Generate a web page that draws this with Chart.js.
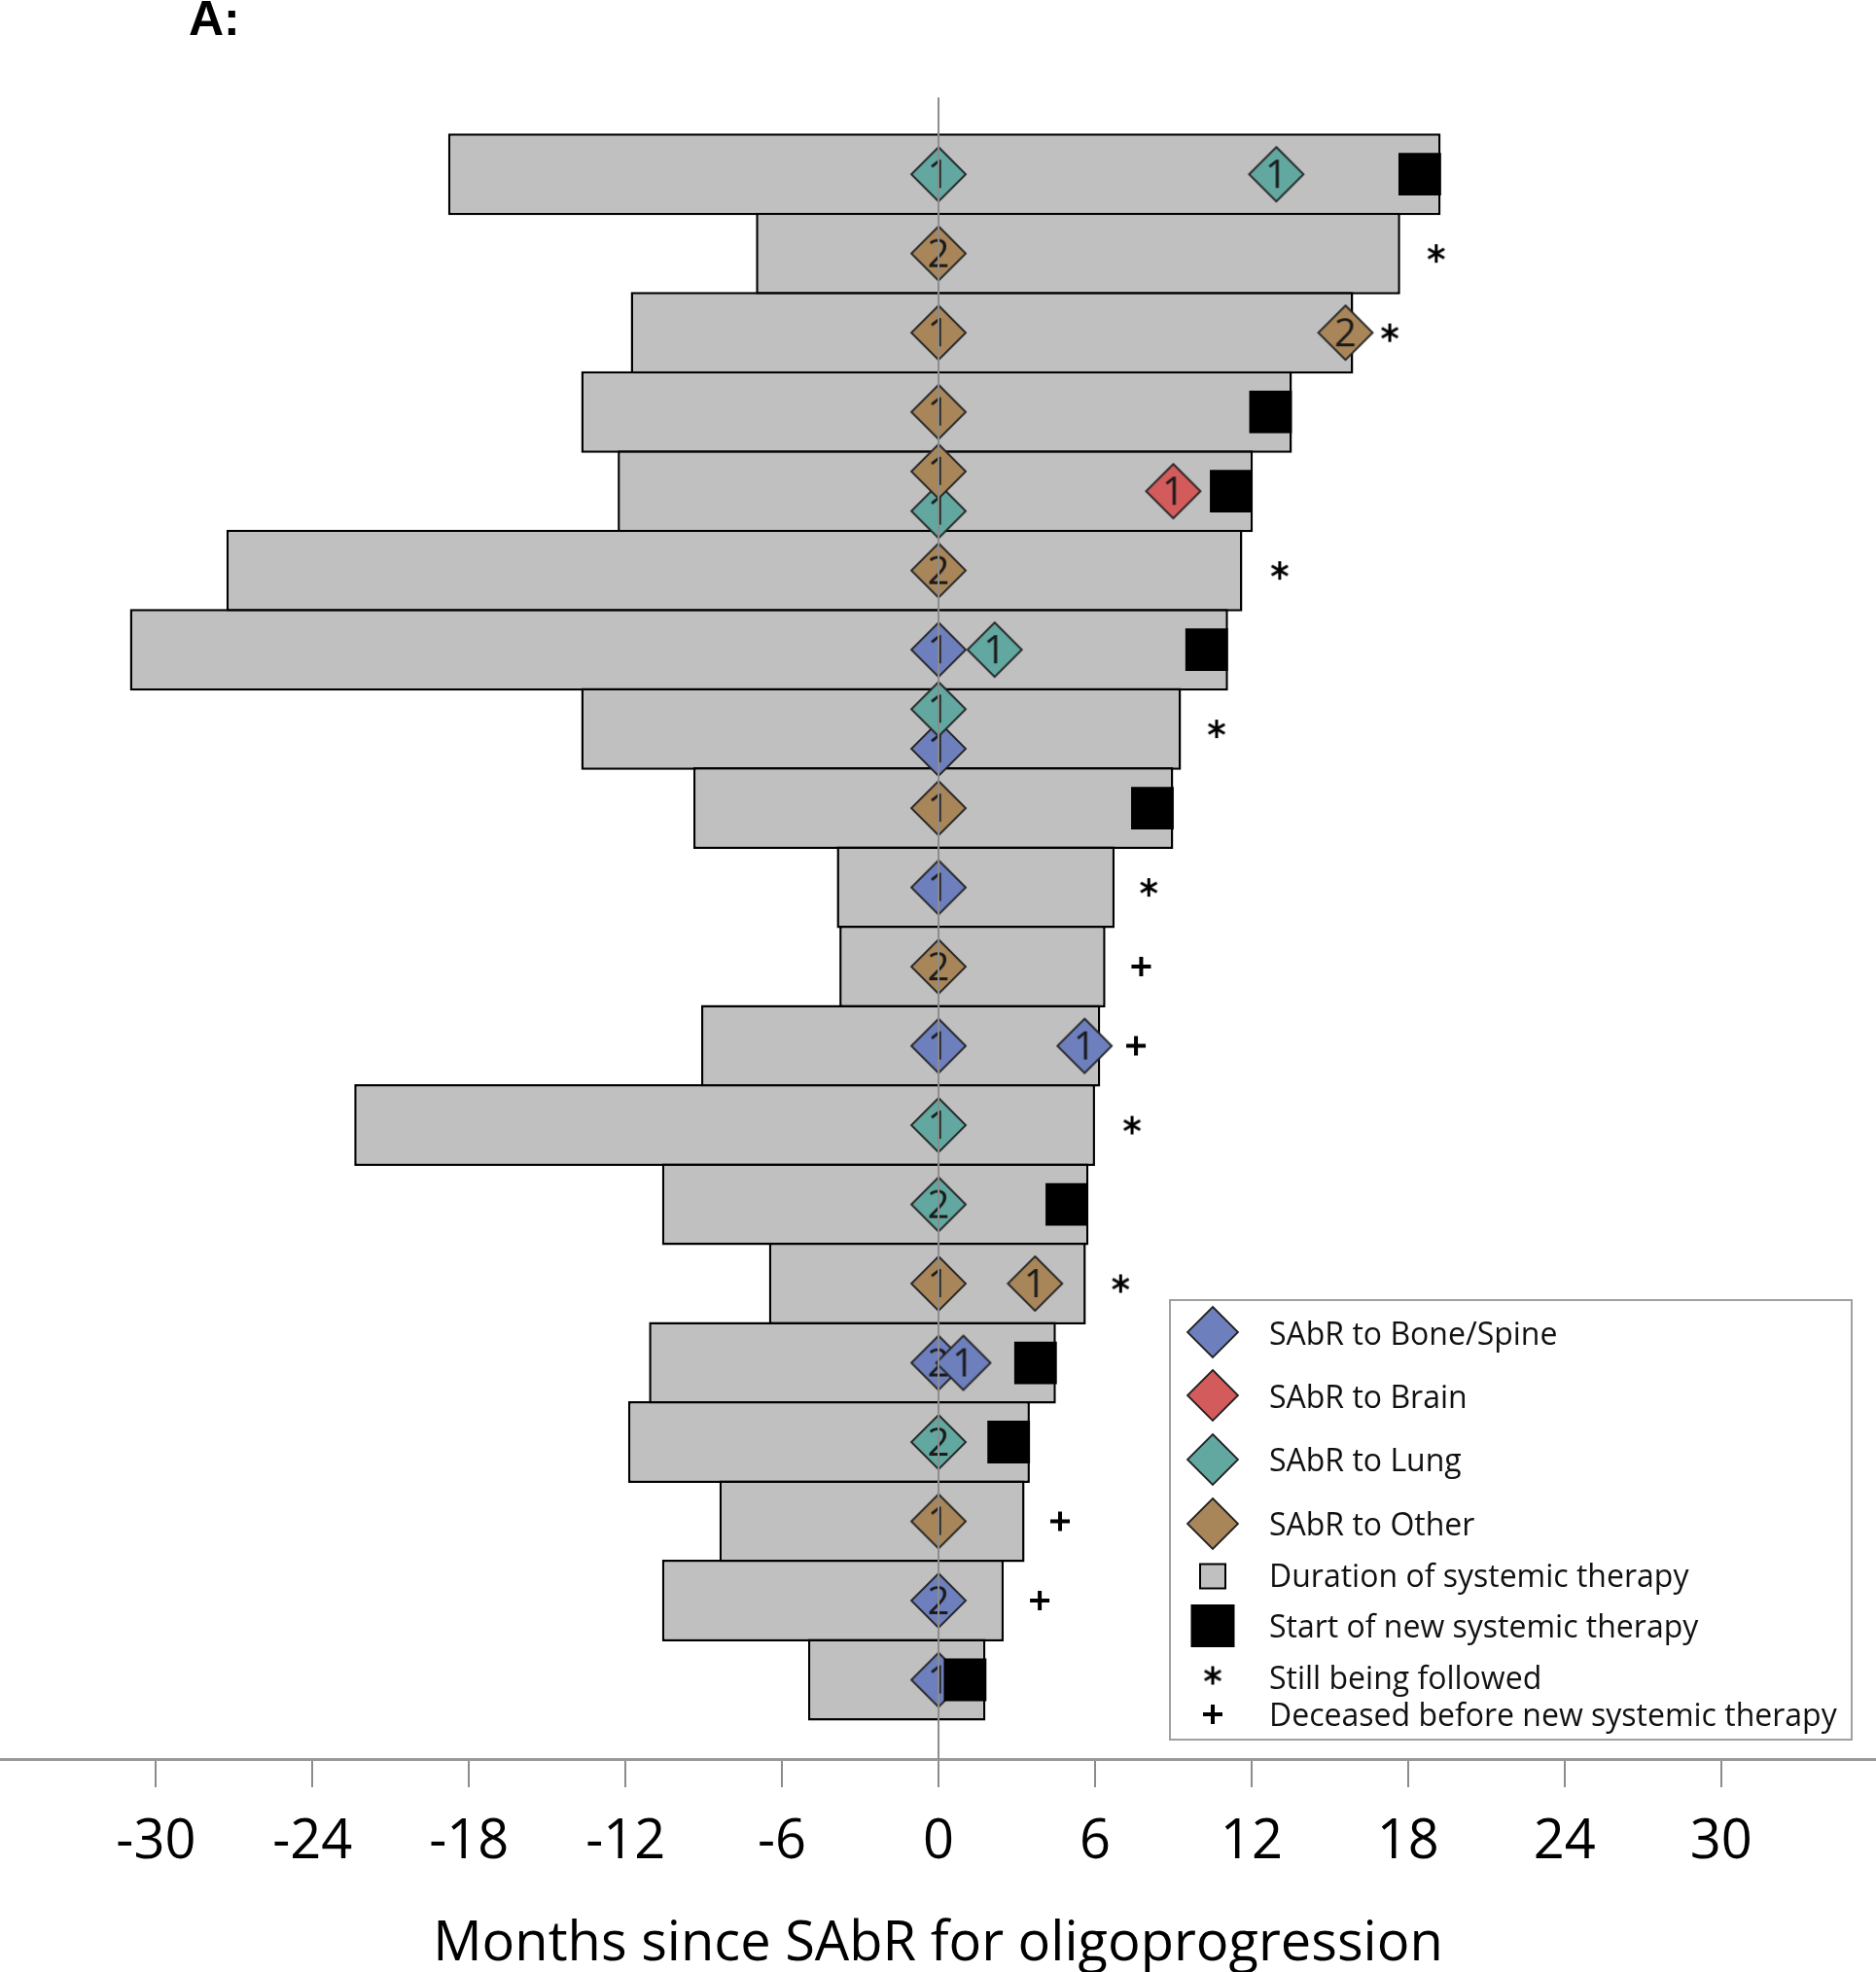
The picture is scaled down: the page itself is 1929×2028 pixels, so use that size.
<!DOCTYPE html>
<html>
<head>
<meta charset="utf-8">
<script src="https://cdn.jsdelivr.net/npm/chart.js@4.4.1/dist/chart.umd.min.js"></script>
<style>
html,body{margin:0;padding:0;background:#fff;}
#wrap{width:1929px;height:2028px;position:relative;}
</style>
</head>
<body>
<div id="wrap"><canvas id="c" width="1929" height="2028"></canvas></div>
<script>
// ---------------- data (months since SAbR) ----------------
const patientRows = [1,2,3,4,5,6,7,8,9,10,11,12,13,14,15,16,17,18,19,20];
const therapyStart = [-18.8,-7.0,-11.8,-13.7,-12.3,-27.3,-31.0,-13.7,-9.4,-3.9,-3.8,-9.1,-22.4,-10.6,-6.5,-11.1,-11.9,-8.4,-10.6,-5.0];
const therapyEnd   = [19.25,17.7,15.9,13.55,12.05,11.65,11.1,9.3,9.0,6.75,6.4,6.2,6.0,5.75,5.65,4.5,3.5,3.3,2.5,1.8];

// [row, month, SAbR course number]
const boneSpineSabr = [[7,0,1],[8.25,0,1],[10,0,1],[12,0,1],[12,5.6,1],[16,0,2],[16,0.95,1],[19,0,2],[20,0,1]];
const brainSabr     = [[5,9.0,1]];
const lungSabr      = [[1,0,1],[1,12.95,1],[5.25,0,1],[7,2.15,1],[7.75,0,1],[13,0,1],[14,0,2],[17,0,2]];
const otherSabr     = [[2,0,2],[3,0,1],[3,15.6,2],[4,0,1],[4.75,0,1],[6,0,2],[9,0,1],[11,0,2],[15,0,1],[15,3.7,1],[18,0,1]];

// [row, month]
const newTherapyStart = [[1,18.45],[4,12.73],[5,11.22],[7,10.28],[9,8.2],[14,4.92],[16,3.72],[17,2.69],[20,1.02]];
const stillFollowed   = [[2,19.08],[3,17.3],[6,13.08],[8,10.66],[10,8.06],[13,7.42],[15,6.98]];
const deceasedBefore  = [[11,7.77],[12,7.57],[18,4.66],[19,3.88]];

const xTickValues = [-30,-24,-18,-12,-6,0,6,12,18,24,30];
const siteLabels  = ['SAbR to Bone/Spine','SAbR to Brain','SAbR to Lung','SAbR to Other'];
const otherLabels = ['Duration of systemic therapy','Start of new systemic therapy','Still being followed','Deceased before new systemic therapy'];
const axisTitle = 'Months since SAbR for oligoprogression';
const panelLabel = 'A:';

// ---------------- styles ----------------
const COLORS = {bone:'#6e7fbd', brain:'#d45b5b', lung:'#62a8a0', other:'#a8865a'};
const FONT = '"Open Sans", "DejaVu Sans", sans-serif';

function makeDiamond(color, label, r) {
  const s = Math.ceil(2*r + 4);
  const cv = document.createElement('canvas');
  cv.width = s; cv.height = s;
  const g = cv.getContext('2d');
  const c = s/2;
  g.beginPath();
  g.moveTo(c, c-r); g.lineTo(c+r, c); g.lineTo(c, c+r); g.lineTo(c-r, c); g.closePath();
  g.fillStyle = color; g.fill();
  g.lineWidth = 1.8; g.strokeStyle = '#222'; g.stroke();
  if (label) {
    g.fillStyle = '#1a1a1a';
    g.font = '40px ' + FONT;
    g.textAlign = 'center';
    g.textBaseline = 'alphabetic';
    g.fillText(String(label), c, c + 0.357*40);
  }
  return cv;
}
function makeAsterisk(size, lw) {
  const s = size + 6;
  const cv = document.createElement('canvas');
  cv.width = s; cv.height = s;
  const g = cv.getContext('2d');
  const c = s/2, a = size/2;
  g.strokeStyle = '#000'; g.lineWidth = lw; g.lineCap = 'butt';
  for (const ang of [90, 30, 150]) {
    const t = ang*Math.PI/180;
    g.beginPath();
    g.moveTo(c - a*Math.cos(t), c - a*Math.sin(t));
    g.lineTo(c + a*Math.cos(t), c + a*Math.sin(t));
    g.stroke();
  }
  return cv;
}
const imgCache = {};
function diamondImg(key, n) {
  const k = key + n;
  if (!imgCache[k]) imgCache[k] = makeDiamond(COLORS[key], n, 28);
  return imgCache[k];
}
const asteriskImg = makeAsterisk(19, 3);

function siteDataset(label, key, arr, order) {
  return {
    type: 'scatter', label,
    data: arr.map(p => ({x: p[1], y: p[0], n: p[2]})),
    pointStyle: (c) => diamondImg(key, c.raw ? c.raw.n : 1),
    pointRadius: 28, pointHoverRadius: 28,
    order
  };
}

// ---------------- plugins ----------------
const legendPlugin = {
  id: 'boxLegend',
  afterDraw(chart) {
    const g = chart.ctx;
    g.save();
    g.strokeStyle = '#a0a0a0'; g.lineWidth = 2;
    g.strokeRect(1203, 1337, 701, 452);
    const ix = 1247;
    const iconY = [1370, 1435, 1501, 1567, 1621, 1672, 1723, 1763];
    const baseY = [1383, 1448, 1513, 1579, 1632, 1684, 1737, 1775];
    const keys = ['bone','brain','lung','other'];
    keys.forEach((k, i) => {
      const im = makeDiamond(COLORS[k], null, 26);
      g.drawImage(im, ix - im.width/2, iconY[i] - im.height/2);
    });
    // grey square
    g.fillStyle = '#c0c0c0'; g.fillRect(ix - 13, iconY[4] - 12.5, 26, 25);
    g.strokeStyle = '#000'; g.lineWidth = 2; g.strokeRect(ix - 13, iconY[4] - 12.5, 26, 25);
    // black square
    g.fillStyle = '#000'; g.fillRect(ix - 22.5, iconY[5] - 22, 45, 44);
    // asterisk
    g.drawImage(asteriskImg, ix - asteriskImg.width/2, iconY[6] - asteriskImg.height/2);
    // plus
    g.strokeStyle = '#000'; g.lineWidth = 4;
    g.beginPath(); g.moveTo(ix - 10, iconY[7]); g.lineTo(ix + 10, iconY[7]);
    g.moveTo(ix, iconY[7] - 10); g.lineTo(ix, iconY[7] + 10); g.stroke();
    // text
    g.fillStyle = '#111';
    g.font = '32px ' + FONT;
    g.textAlign = 'left'; g.textBaseline = 'alphabetic';
    const labels = siteLabels.concat(otherLabels);
    labels.forEach((t, i) => g.fillText(t, 1305, baseY[i]));
    // panel label
    g.fillStyle = '#000';
    g.font = 'bold 50px "Liberation Sans", Arial, sans-serif';
    g.fillText(panelLabel, 194, 36);
    g.restore();
  }
};

// ---------------- chart ----------------
new Chart(document.getElementById('c'), {
  data: {
    datasets: [
      {
        type: 'bar', label: otherLabels[0], indexAxis: 'y',
        data: patientRows.map((r, i) => ({y: r, x: [therapyStart[i], therapyEnd[i]]})),
        backgroundColor: '#c0c0c0', borderColor: '#000', borderWidth: 2.5, borderSkipped: false,
        barPercentage: 1.031, categoryPercentage: 1, order: 10
      },
      siteDataset(siteLabels[0], 'bone', boneSpineSabr, 7),
      siteDataset(siteLabels[1], 'brain', brainSabr, 7),
      siteDataset(siteLabels[2], 'lung', lungSabr, 6),
      siteDataset(siteLabels[3], 'other', otherSabr, 5),
      {
        type: 'scatter', label: otherLabels[1],
        data: newTherapyStart.map(p => ({x: p[1], y: p[0]})),
        pointStyle: 'rect', pointRadius: 31, pointHoverRadius: 31,
        backgroundColor: '#000', borderColor: '#000', borderWidth: 0, order: 3
      },
      {
        type: 'scatter', label: otherLabels[2],
        data: stillFollowed.map(p => ({x: p[1], y: p[0]})),
        pointStyle: asteriskImg, pointRadius: 9, order: 2
      },
      {
        type: 'scatter', label: otherLabels[3],
        data: deceasedBefore.map(p => ({x: p[1], y: p[0]})),
        pointStyle: 'cross', pointRadius: 10, pointHoverRadius: 10,
        borderColor: '#000', borderWidth: 4, order: 2
      },
      {
        type: 'line', label: 'ref',
        data: [{x: 0, y: 0.03}, {x: 0, y: 21}],
        borderColor: '#8c8c8c', borderWidth: 2, pointRadius: 0, order: 1
      }
    ]
  },
  options: {
    responsive: false,
    animation: false,
    events: [],
    layout: {autoPadding: false, padding: {top: 97.7, left: 0, right: 0, bottom: 0}},
    plugins: {legend: {display: false}, tooltip: {enabled: false}, title: {display: false}},
    scales: {
      x: {
        type: 'linear', position: 'bottom', min: -35.98, max: 35.94, offset: false,
        afterBuildTicks: s => { s.ticks = xTickValues.map(v => ({value: v})); },
        afterFit: s => { s.height = 219; },
        grid: {drawOnChartArea: false, drawTicks: true, tickLength: 29, color: '#8c8c8c', lineWidth: 2, offset: false},
        border: {display: true, color: '#999', width: 3},
        ticks: {font: {family: FONT, size: 56}, color: '#000', padding: 23, maxRotation: 0, autoSkip: false},
        title: {display: true, text: axisTitle, font: {family: FONT, size: 56, lineHeight: 1.0}, color: '#000', padding: {top: 0, bottom: 0}}
      },
      y: {type: 'linear', min: 0, max: 21, reverse: true, display: false, offset: false, grid: {offset: false}, ticks: {stepSize: 1}}
    }
  },
  plugins: [legendPlugin]
});
</script>
</body>
</html>
